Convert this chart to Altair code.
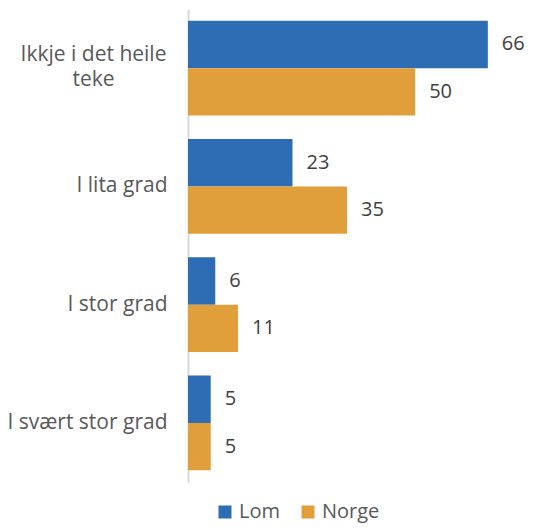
import altair as alt
import pandas as pd

categories = ["Ikkje i det heile teke", "I lita grad", "I stor grad", "I svært stor grad"]
series = ["Lom", "Norge"]
lom = [66, 23, 6, 5]
norge = [50, 35, 11, 5]
colors = ["#2e6db4", "#e09f3a"]

rows = []
for c, a, b in zip(categories, lom, norge):
    rows.append({"kategori": c, "serie": series[0], "verdi": a})
    rows.append({"kategori": c, "serie": series[1], "verdi": b})
df = pd.DataFrame(rows)

FONT = "Open Sans"
FS = 21
test_first = f"datum.value == '{categories[0]}'"
label_expr = f"{test_first} ? ['Ikkje i det heile', 'teke'] : datum.value"

y = alt.Y(
    "kategori:N",
    sort=categories,
    scale=alt.Scale(paddingInner=0.2, paddingOuter=0.1),
    axis=alt.Axis(
        title=None,
        ticks=False,
        labelPadding={"condition": {"test": test_first, "value": 95}, "value": 21},
        labelAlign={"condition": {"test": test_first, "value": "center"}, "value": "right"},
        labelOffset={"condition": {"test": test_first, "value": -13}, "value": 0},
        labelFontSize=FS,
        labelFont=FONT,
        labelColor="#595959",
        domainColor="#d9d9d9",
        domainWidth=2,
        labelLimit=220,
        labelExpr=label_expr,
        labelLineHeight=25,
    ),
)
yoff = alt.YOffset("serie:N", sort=series, scale=alt.Scale(paddingInner=0, paddingOuter=0))
x = alt.X("verdi:Q", scale=alt.Scale(domain=[0, 70]), axis=None)

base = alt.Chart(df).encode(y=y, yOffset=yoff, x=x)
bars = base.mark_bar().encode(
    color=alt.Color(
        "serie:N",
        sort=series,
        scale=alt.Scale(domain=series, range=colors),
        legend=alt.Legend(
            title=None,
            orient="none",
            legendX=27,
            legendY=493,
            direction="horizontal",
            symbolType="square",
            symbolSize=169,
            symbolStrokeWidth=0,
            labelFontSize=20,
            labelFont=FONT,
            labelColor="#595959",
            columnPadding=18,
            labelOffset=4,
            padding=0,
        ),
    )
)
text = base.mark_text(
    align="left", baseline="middle", dx=14, font=FONT, fontSize=20, color="#404040"
).encode(text="verdi:Q")

chart = (
    (bars + text)
    .properties(
        width=318,
        height=473,
        padding={"left": 180, "top": 1, "right": 19, "bottom": 41},
        autosize=alt.AutoSizeParams(type="none"),
    )
    .configure_view(stroke=None)
)

chart.save("out.html", embed_options={"renderer": "svg", "actions": False})
